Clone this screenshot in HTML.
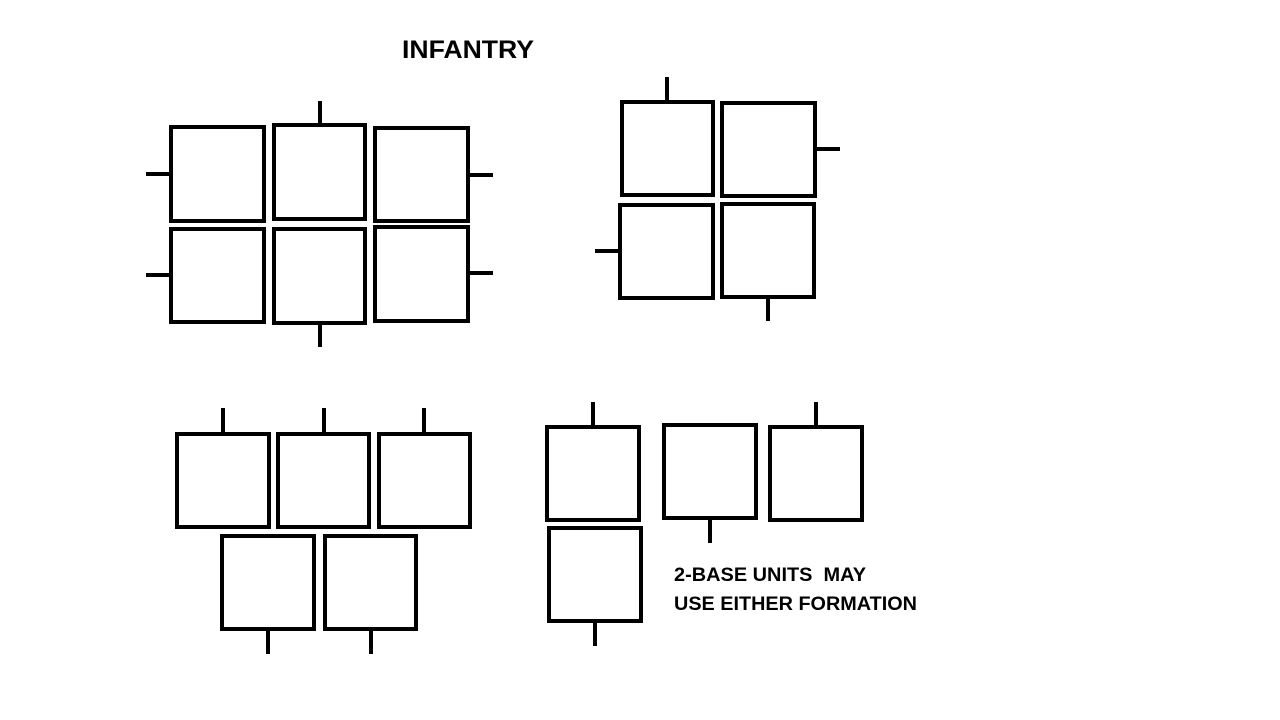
<!DOCTYPE html>
<html><head><meta charset="utf-8"><style>html,body{margin:0;padding:0;background:#fff}svg{display:block}</style></head>
<body>
<svg width="1280" height="720" viewBox="0 0 1280 720" xmlns="http://www.w3.org/2000/svg">
<rect width="1280" height="720" fill="#fff"/>
<g fill="none" stroke="#000" stroke-width="4">
<rect x="171" y="127" width="93" height="94"/>
<rect x="274" y="125" width="91" height="94"/>
<rect x="375" y="128" width="93" height="93"/>
<rect x="171" y="229" width="93" height="93"/>
<rect x="274" y="229" width="91" height="94"/>
<rect x="375" y="227" width="93" height="94"/>
<path d="M320 101V125M320 323V347M146 174H169M146 275H169M470 175H493M470 273H493"/>
<rect x="622" y="102" width="91" height="93"/>
<rect x="722" y="103" width="93" height="93"/>
<rect x="620" y="205" width="93" height="93"/>
<rect x="722" y="204" width="92" height="93"/>
<path d="M667 77V100M817 149H840M595 251H618M768 298V321"/>
<rect x="177" y="434" width="92" height="93"/>
<rect x="278" y="434" width="91" height="93"/>
<rect x="379" y="434" width="91" height="93"/>
<rect x="222" y="536" width="92" height="93"/>
<rect x="325" y="536" width="91" height="93"/>
<path d="M223 408V432M324 408V432M424 408V432M268 631V654M371 631V654"/>
<rect x="547" y="427" width="92" height="93"/>
<rect x="664" y="425" width="92" height="93"/>
<rect x="770" y="427" width="92" height="93"/>
<rect x="549" y="528" width="92" height="93"/>
<path d="M593 402V425M816 402V425M710 520V543M595 623V646"/>
</g>
<g font-family="Liberation Sans, sans-serif" font-weight="bold" fill="#000">
<text x="402" y="58" font-size="25" textLength="132" lengthAdjust="spacingAndGlyphs">INFANTRY</text>
<text x="674" y="581" font-size="19" textLength="192" lengthAdjust="spacingAndGlyphs">2-BASE UNITS&#160; MAY</text>
<text x="674" y="610" font-size="19" textLength="243" lengthAdjust="spacingAndGlyphs">USE EITHER FORMATION</text>
</g>
</svg>
</body></html>
